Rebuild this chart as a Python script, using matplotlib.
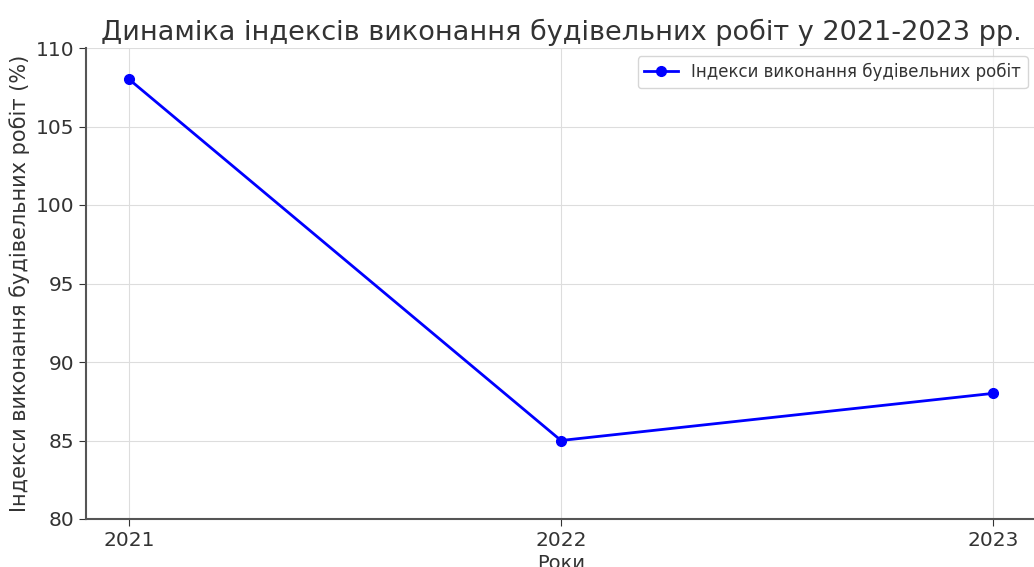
import matplotlib.pyplot as plt

years = [2021, 2022, 2023]
values = [108, 85, 88]
title = "Динаміка індексів виконання будівельних робіт у 2021-2023 рр."
xlabel = "Роки"
ylabel = "Індекси виконання будівельних робіт (%)"
series_name = "Індекси виконання будівельних робіт"

plt.rcParams['font.family'] = ['DejaVu Sans']

fig = plt.figure(figsize=(10.34, 5.67), dpi=100)
ax = fig.add_axes([86/1034, 48/567, 950/1034, 471/567])

ax.plot(years, values, color="blue", marker="o", markersize=7, linewidth=2, label=series_name)

ax.set_xlim(2020.9, 2023.1)
ax.set_ylim(80, 110)
ax.set_xticks(years)
ax.set_yticks(range(80, 111, 5))

ax.grid(True, color="#dddddd", linewidth=0.8)
for s in ["top", "right"]:
    ax.spines[s].set_visible(False)
for s in ["left", "bottom"]:
    ax.spines[s].set_color("#555555")
    ax.spines[s].set_linewidth(1.5)
ax.tick_params(labelsize=14.5, colors="#333333", length=5)

ax.set_title(title, fontsize=19.5, color="#333333", pad=6)
ax.set_xlabel(xlabel, fontsize=14, color="#333333", labelpad=3)
ax.set_ylabel(ylabel, fontsize=15, color="#333333")
ax.legend(loc="upper right", fontsize=12, labelcolor="#333333")

fig.savefig("out.png", dpi=100)
